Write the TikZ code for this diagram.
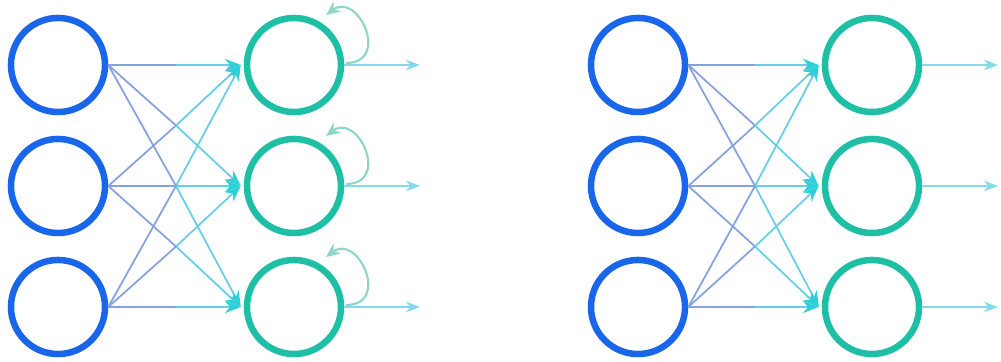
\documentclass[tikz,border=0pt]{standalone}
\usetikzlibrary{arrows.meta,calc}
\definecolor{inblue}{HTML}{1A66EA}
\definecolor{outteal}{HTML}{1EBFA5}
\definecolor{edgeA}{HTML}{86A2DE}
\definecolor{edgeB}{HTML}{66CFE6}
\definecolor{tipcol}{HTML}{2CD0D6}
\definecolor{loopcol}{HTML}{8FD6C8}
\begin{document}
\begin{tikzpicture}[x=0.01cm,y=-0.01cm,
  neuron/.style={circle,minimum size=0.94cm,line width=0.065cm,inner sep=0pt,fill=white},
  inn/.style={neuron,draw=inblue},
  outn/.style={neuron,draw=outteal},
  halfA/.style={draw=edgeA,line width=0.5pt},
  halfB/.style={draw=edgeB,line width=0.5pt,-{Stealth[length=4.5pt,width=3.5pt,color=tipcol]}},
  outarrow/.style={draw=edgeB!80,line width=0.5pt,-{Stealth[length=4pt,width=3pt,color=edgeB!80]}},
  loopst/.style={draw=loopcol,line width=0.6pt,-{Stealth[length=4pt,width=3.5pt,color=loopcol]}}]
\useasboundingbox (0,0) rectangle (1001,362);
% left network
\node[inn] (a1) at (58,65) {};
\node[inn] (a2) at (58,186) {};
\node[inn] (a3) at (58,307) {};
\node[outn] (b1) at (294,65) {};
\node[outn] (b2) at (294,186) {};
\node[outn] (b3) at (294,307) {};
% right network
\node[inn] (c1) at (638,65) {};
\node[inn] (c2) at (638,186) {};
\node[inn] (c3) at (638,307) {};
\node[outn] (d1) at (872,65) {};
\node[outn] (d2) at (872,186) {};
\node[outn] (d3) at (872,307) {};
% free ends of output arrows
\coordinate (eb1) at (420,65);
\coordinate (eb2) at (420,186);
\coordinate (eb3) at (420,307);
\coordinate (ed1) at (998,65);
\coordinate (ed2) at (998,186);
\coordinate (ed3) at (998,307);
% connections
\foreach \s/\t in {a/b,c/d}{
  \foreach \i in {1,2,3}{
    \foreach \j in {1,2,3}{
      \draw[halfA] (\s\i.east) -- ($(\s\i.east)!0.5!(\t\j.west)$);
      \draw[halfB] ($(\s\i.east)!0.5!(\t\j.west)$) -- ([xshift=-0.03cm]\t\j.west);
    }
  }
}
% outputs
\foreach \j in {1,2,3}{
  \draw[outarrow] (b\j.east) -- (eb\j);
  \draw[outarrow] (d\j.east) -- (ed\j);
  \draw[loopst] ($(b\j.center)+(52,-2)$) .. controls +(45,0) and +(32,-24) .. ($(b\j.center)+(32,-50)$);
}
\end{tikzpicture}
\end{document}
